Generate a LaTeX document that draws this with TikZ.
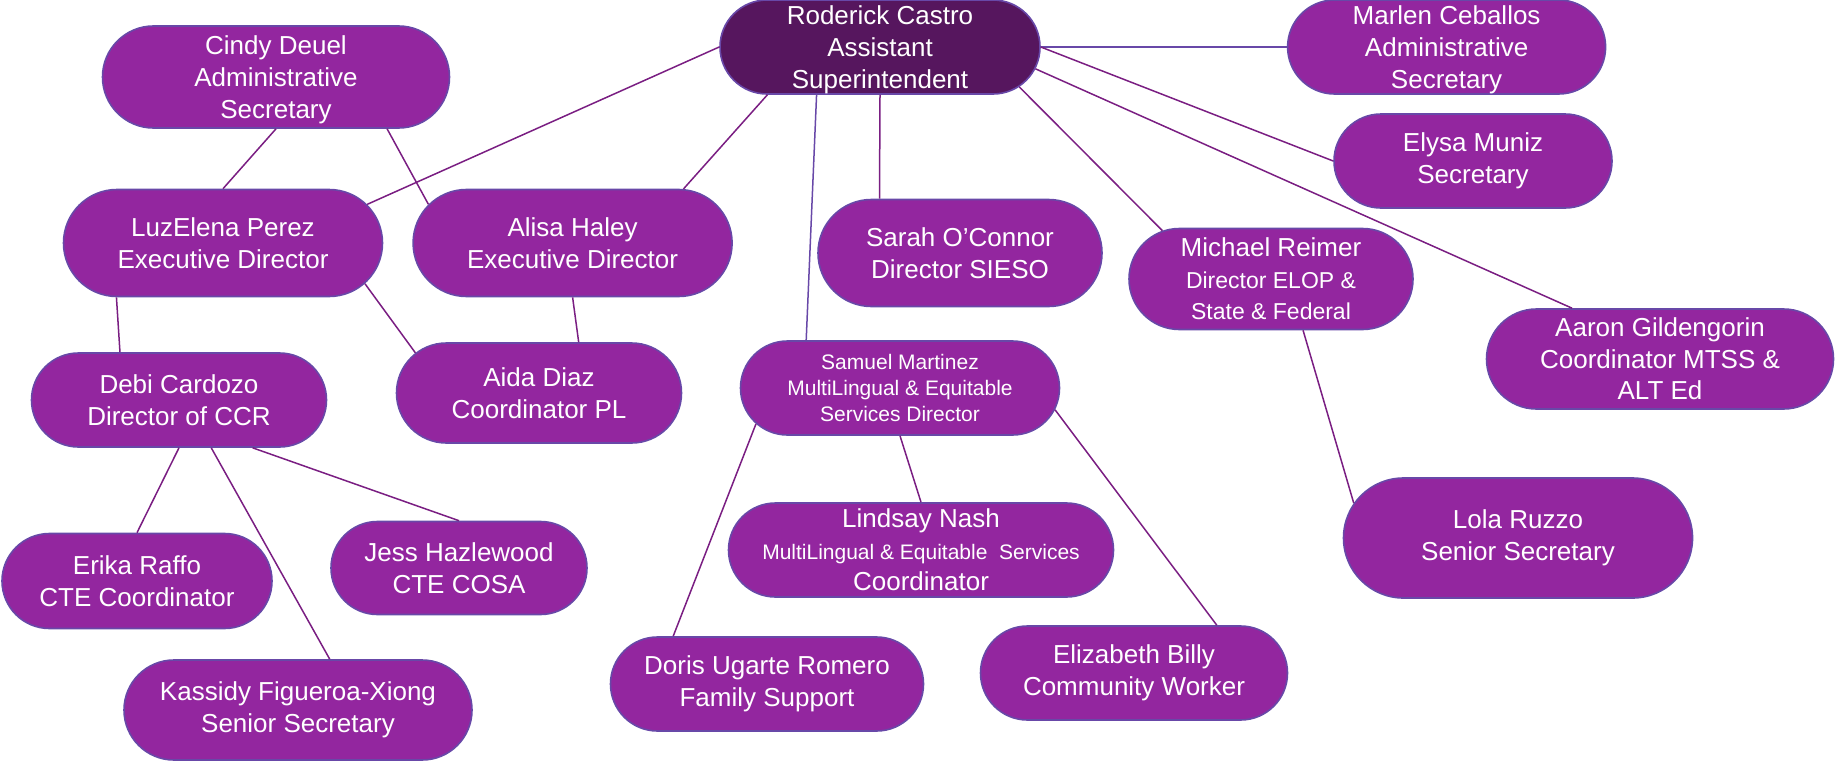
\documentclass[tikz,border=0pt]{standalone}
\usepackage{fontspec}
\setmainfont{Liberation Sans}
\usetikzlibrary{shapes.misc,positioning}
\definecolor{staffpurple}{RGB}{147,38,159}
\definecolor{chiefpurple}{RGB}{86,22,94}
\definecolor{rimblue}{RGB}{104,72,168}
\definecolor{linkpurple}{RGB}{122,30,130}
\tikzset{staff/.style={rounded rectangle,draw=rimblue,fill=staffpurple,text=white,line width=0.8pt,align=center,inner sep=1pt,font=\fontsize{13}{15.8}\selectfont}}
\tikzset{chief/.style={staff,fill=chiefpurple}}
\tikzset{link/.style={draw=linkpurple,line width=0.75pt}}
\tikzset{paleLink/.style={draw=rimblue,line width=0.75pt}}
\newcommand{\smallline}{\fontsize{10.5}{13}\selectfont}
\newcommand{\midline}{\fontsize{11.5}{13.5}\selectfont}

\begin{document}
\begin{tikzpicture}[x=0.5pt,y=-0.5pt]
\useasboundingbox (0,0) rectangle (1835,760);
% top
\node (roderick) [chief, minimum width=162pt, minimum height=47pt, text depth=0pt] at (880,47) {Roderick Castro\\Assistant\\Superintendent};
\node (marlen) [staff, minimum width=161pt, minimum height=47pt, text depth=0pt, right=123pt of roderick] {Marlen Ceballos\\Administrative\\Secretary};
\node (elysa) [staff, minimum width=141pt, minimum height=47pt] at (1473,161) {Elysa Muniz\\Secretary};
\node (cindy) [staff, minimum width=175.5pt, minimum height=51pt, text depth=0pt] at (276,77) {Cindy Deuel\\Administrative\\Secretary};
% second row
\node (luz) [staff, minimum width=161.5pt, minimum height=53.5pt] at (223,243) {LuzElena Perez\\Executive Director};
\node (alisa) [staff, minimum width=161.5pt, minimum height=53.5pt, right=14.5pt of luz] {Alisa Haley\\Executive Director};
\node (sarah) [staff, minimum width=144pt, minimum height=53.5pt] at (960,253) {Sarah O’Connor\\Director SIESO};
\node (michael) [staff, minimum width=144pt, minimum height=50.5pt] at (1271,279) {Michael Reimer\\\midline Director ELOP \&\\\midline State \& Federal};
\node (aaron) [staff, minimum width=175.5pt, minimum height=50pt] at (1660,359) {Aaron Gildengorin\\Coordinator MTSS \&\\ALT Ed};
% third row
\node (debi) [staff, minimum width=149.5pt, minimum height=47pt] at (179,400) {Debi Cardozo\\Director of CCR};
\node (aida) [staff, minimum width=144.5pt, minimum height=50pt] at (539,393) {Aida Diaz\\Coordinator PL};
\node (samuel) [staff, minimum width=161.5pt, minimum height=47pt, font=\smallline] at (900,388) {Samuel Martinez\\MultiLingual \& Equitable\\Services Director};
\node (lola) [staff, minimum width=176.5pt, minimum height=60pt] at (1518,538) {Lola Ruzzo\\Senior Secretary};
% bottom
\node (erika) [staff, minimum width=137pt, minimum height=47.5pt] at (137,581) {Erika Raffo\\CTE Coordinator};
\node (jess) [staff, minimum width=130pt, minimum height=46.5pt] at (459,568) {Jess Hazlewood\\CTE COSA};
\node (kassidy) [staff, minimum width=176pt, minimum height=50pt] at (298,710) {Kassidy Figueroa-Xiong\\Senior Secretary};
\node (lindsay) [staff, minimum width=194.5pt, minimum height=47pt] at (921,550) {Lindsay Nash\\\smallline MultiLingual \& Equitable~ Services\\Coordinator};
\node (doris) [staff, minimum width=158.5pt, minimum height=47pt] at (767,684) {Doris Ugarte Romero\\Family Support};
\node (elizabeth) [staff, minimum width=155.5pt, minimum height=47pt] at (1134,673) {Elizabeth Billy\\Community Worker};

\draw [link] (cindy.south) -- (luz.north);
\draw [link] (cindy.335) -- (alisa.165);
\draw [link] (roderick.west) -- (luz.15);
\draw [link] (roderick.203) -- (alisa.26);
\draw [paleLink] (roderick.217) -- (samuel.153);
\draw [link] (roderick.south) -- (sarah.146);
\draw [link] (roderick.344) -- (michael.156);
\draw [paleLink] (roderick.east) -- (marlen.west);
\draw [link] (roderick.east) -- (elysa.west);
\draw [link] (roderick.352) -- (aaron.150);
\draw [link] (luz.207) -- (debi.141);
\draw [link] (luz.344) -- (aida.162);
\draw [link] (alisa.south) -- (aida.52);
\draw [link] (michael.302) -- (lola.168);
\draw [link] (debi.south) -- (erika.north);
\draw [link] (debi.304) -- (kassidy.58);
\draw [link] (debi.327) -- (jess.north);
\draw [link] (samuel.194) -- (doris.153);
\draw [link] (samuel.south) -- (lindsay.north);
\draw [link] (samuel.352) -- (elizabeth.30);
\end{tikzpicture}
\end{document}
